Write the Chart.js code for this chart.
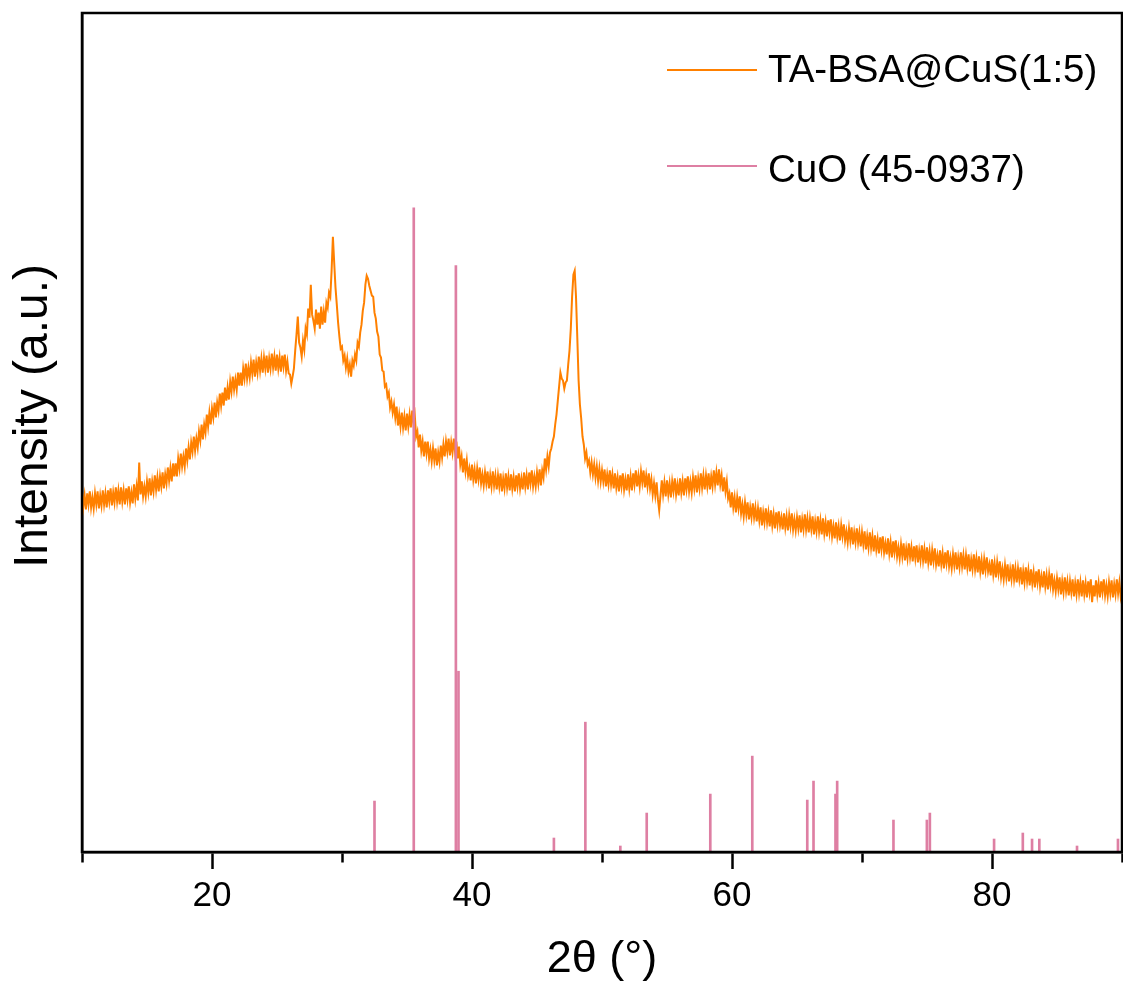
<!DOCTYPE html>
<html>
<head>
<meta charset="utf-8">
<script src="https://cdn.jsdelivr.net/npm/chart.js@4"></script>
<style>
  html, body { margin: 0; padding: 0; background: #fff; }
  canvas { display: block; }
</style>
</head>
<body>
<canvas id="xrd" width="1123" height="987"></canvas>
<script>
// scan grid: 10° to 90°, 0.1° step
const scanStart = 10, scanStep = 0.1;

// TA-BSA@CuS(1:5) intensity (a.u.), one row = 2°
const sampleIntensity = [
  360,346,357,343,359,348,361,345,355,344,359,348,361,344,357,347,362,348,359,345,
  362,351,364,347,360,350,365,351,362,348,365,351,362,348,364,353,366,350,360,349,
  368,354,366,352,390,358,371,356,366,356,371,360,374,357,371,361,377,363,375,361,
  376,366,380,364,378,369,385,372,384,371,389,376,389,376,394,384,399,386,396,386,
  404,392,405,393,410,401,416,402,414,405,421,412,428,413,428,420,438,426,440,428,
  444,435,450,435,450,442,459,447,460,447,465,452,465,453,471,461,476,463,473,463,
  480,467,480,467,484,474,489,474,485,475,490,479,493,476,490,480,496,482,494,480,
  495,484,497,480,494,484,499,485,496,482,498,484,495,481,497,486,498,482,491,479,
  478,469,476,484,502,518,536,510,505,496,512,503,524,518,544,535,568,538,532,524,
  543,528,540,524,546,528,541,530,550,545,560,556,582,616,590,565,548,530,516,504,
  506,492,497,485,494,481,488,476,492,487,498,492,510,506,520,528,542,550,568,577,
  574,567,562,557,556,540,534,521,516,498,495,482,481,466,468,456,460,445,451,440,
  448,435,446,427,438,426,440,425,436,422,439,426,438,425,442,429,437,416,421,405,
  418,402,411,396,411,399,411,394,403,391,404,392,404,387,400,391,407,395,408,396,
  411,401,414,397,410,400,414,400,411,394,406,388,396,380,394,381,392,377,384,372,
  388,373,383,369,384,373,385,369,378,367,380,369,381,364,377,366,381,367,377,363,
  377,366,379,361,374,364,379,365,376,362,378,364,375,361,377,366,379,364,374,363,
  380,366,377,363,380,369,382,366,376,366,380,369,383,367,382,375,394,383,396,386,
  400,404,411,416,428,438,452,466,480,474,472,464,470,472,488,502,524,556,578,582,
  556,515,472,448,434,416,408,394,400,388,392,380,390,378,388,375,386,372,384,371,
  382,371,383,366,378,368,382,368,378,364,379,365,375,361,377,366,379,363,373,362,
  378,364,376,362,379,368,382,366,377,366,381,370,382,365,377,366,379,364,373,358,
  369,357,370,353,342,357,372,358,370,356,372,358,369,355,371,361,374,358,368,357,
  374,360,371,357,374,363,376,361,371,360,375,364,377,360,374,364,379,365,377,363,
  377,366,379,363,376,366,382,368,380,367,383,368,377,361,375,361,371,354,359,345,
  360,345,355,340,355,344,356,339,348,336,350,338,350,333,345,335,349,335,345,331,
  344,332,345,327,340,330,344,330,340,326,342,327,338,324,340,328,341,327,335,323,
  339,325,336,322,337,326,339,323,333,322,335,324,337,320,333,323,338,323,334,320,
  334,323,336,318,331,321,336,321,332,318,334,319,330,316,332,320,333,316,326,314,
  330,316,326,312,327,316,328,312,321,310,324,312,325,308,320,310,324,310,320,306,
  320,308,321,303,316,305,320,305,316,301,317,303,313,299,315,303,316,300,309,298,
  314,299,310,295,311,300,312,296,305,294,308,296,309,292,304,294,309,295,305,291,
  306,294,307,290,302,292,307,292,303,289,305,290,301,287,302,291,304,288,297,286,
  302,288,299,284,300,289,302,286,295,284,298,287,300,283,295,285,300,286,297,283,
  297,285,298,281,293,283,298,283,294,280,296,281,292,278,293,282,295,281,288,277,
  293,278,289,275,290,279,291,275,284,273,287,275,288,271,283,273,288,273,284,270,
  284,273,285,268,281,270,285,271,282,267,283,269,280,265,281,270,283,266,276,265,
  281,266,277,263,278,267,279,263,272,261,274,263,275,258,271,260,275,261,271,257,
  271,260,273,256,269,258,273,259,270,256,272,258,269,255,271,260,273,250,267,256,
  272,258,269,255,271,260,273,257,267,256,270,259,272,255,268,258,273,259,270,256,
  264
];

// CuO reference pattern (JCPDS 45-0937)
const cuoAngles    = [32.50, 35.52, 38.76, 38.96, 46.30, 48.72, 51.41, 53.44, 58.33, 61.56, 65.79, 66.27, 67.96, 68.09, 72.42, 74.99, 75.22, 80.16, 82.37, 83.08, 83.64, 86.54, 89.69];
const cuoIntensity = [51, 645, 587, 181, 14, 130, 6, 39, 58, 96, 52, 71, 58, 71, 32, 32, 39, 13, 19, 13, 13, 6, 13];

const xTicks = [20, 40, 60, 80];

const FONT = "'Liberation Sans', Arial, sans-serif";

const samplePts = sampleIntensity.map((v, i) => ({ x: scanStart + i * scanStep, y: v }));
const cuoPts = cuoAngles.map((a, i) => ({ x: a, y: cuoIntensity[i] }));

const framePlugin = {
  id: "frame",
  afterDraw(chart) {
    const { ctx, chartArea: a } = chart;
    ctx.save();
    ctx.strokeStyle = "#000";
    ctx.lineWidth = 2.5;
    ctx.strokeRect(a.left, a.top, a.right - a.left, a.bottom - a.top);
    ctx.restore();
  },
};

// y title drawn by hand, it sits a little above the centre of the axis
const yTitlePlugin = {
  id: "ytitle",
  afterDraw(chart) {
    const ctx = chart.ctx;
    ctx.save();
    ctx.translate(34, 416);
    ctx.rotate(-Math.PI / 2);
    ctx.font = "48px " + FONT;
    ctx.fillStyle = "#000";
    ctx.textAlign = "center";
    ctx.textBaseline = "middle";
    ctx.fillText("Intensity (a.u.)", 0, 0);
    ctx.restore();
  },
};

const legendPlugin = {
  id: "inlegend",
  afterDraw(chart) {
    const ctx = chart.ctx;
    const rows = [
      { ds: chart.data.datasets[0], y: 70, base: 82 },
      { ds: chart.data.datasets[1], y: 166, base: 182 },
    ];
    ctx.save();
    ctx.font = "38.5px " + FONT;
    ctx.textAlign = "left";
    ctx.textBaseline = "alphabetic";
    for (const r of rows) {
      ctx.strokeStyle = r.ds.legendColor;
      ctx.lineWidth = 2;
      ctx.beginPath();
      ctx.moveTo(667, r.y);
      ctx.lineTo(757, r.y);
      ctx.stroke();
      ctx.fillStyle = "#000";
      ctx.fillText(r.ds.label, 768, r.base);
    }
    ctx.restore();
  },
};

new Chart(document.getElementById("xrd").getContext("2d"), {
  type: "line",
  data: {
    datasets: [
      { type: "line", label: "TA-BSA@CuS(1:5)", data: samplePts, borderColor: "#FF8000", legendColor: "#FF8000", borderWidth: 2, pointRadius: 0, tension: 0, order: 2 },
      { type: "bar", label: "CuO (45-0937)", data: cuoPts, backgroundColor: "#DE7FA3", legendColor: "#DE7FA3", barThickness: 2, grouped: false, borderWidth: 0, order: 1 },
    ],
  },
  options: {
    responsive: false,
    animation: false,
    events: [],
    layout: { padding: { top: 13, right: 1, left: 0, bottom: 0 } },
    plugins: { legend: { display: false }, tooltip: { enabled: false } },
    scales: {
      x: {
        type: "linear",
        min: 10,
        max: 90,
        offset: false,
        afterFit: (s) => {
          s.height = 135;
          s.paddingLeft = 0;
          s.paddingRight = 0;
        },
        border: { display: true, color: "#000", width: 2.5 },
        grid: {
          display: true,
          offset: false,
          drawOnChartArea: false,
          drawTicks: true,
          tickLength: 17,
          tickWidth: 2.5,
          tickColor: "#000",
          tickBorderDash: (c) => (c.tick && xTicks.includes(c.tick.value) ? [] : [9, 40]),
        },
        ticks: {
          stepSize: 10,
          autoSkip: false,
          maxRotation: 0,
          padding: 6,
          color: "#000",
          font: { family: FONT, size: 35 },
          callback: (v) => (xTicks.includes(v) ? v : ""),
        },
        title: { display: true, text: "2θ (°)", color: "#000", font: { family: FONT, size: 45 }, padding: { top: 0, bottom: 0 } },
      },
      y: {
        min: 0,
        max: 840,
        afterFit: (s) => { s.width = 82; },
        border: { display: true, color: "#000", width: 2.5 },
        grid: { display: false },
        ticks: { display: false },
        title: { display: false },
      },
    },
  },
  plugins: [framePlugin, yTitlePlugin, legendPlugin],
});
</script>
</body>
</html>
